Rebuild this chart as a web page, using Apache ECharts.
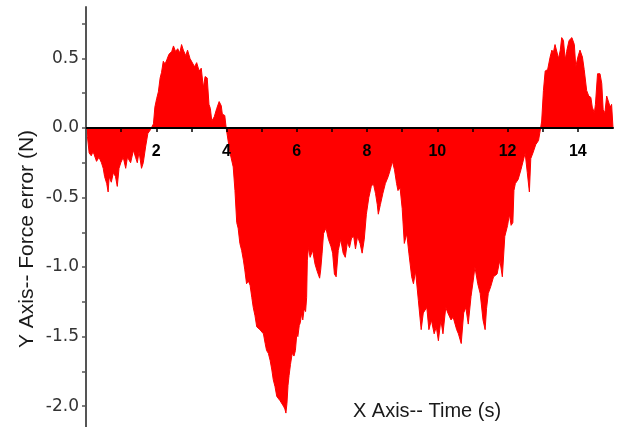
<!DOCTYPE html>
<html lang="en">
<head>
<meta charset="utf-8">
<title>Force error</title>
<script src="https://cdn.jsdelivr.net/npm/echarts@6/dist/echarts.min.js"></script>
<style>
  html, body { margin: 0; padding: 0; background: #fff; }
  #main { width: 626px; height: 427px; }
</style>
</head>
<body>
<div id="main"></div>
<script>
// time (s)
var timeS = [
  0.00, 0.04, 0.09, 0.15, 0.20, 0.23, 0.30, 0.37, 0.44, 0.49,
  0.53, 0.59, 0.63, 0.66, 0.72, 0.78, 0.84, 0.89, 0.94, 0.99,
  1.06, 1.13, 1.18, 1.27, 1.35, 1.41, 1.46, 1.51, 1.58, 1.63,
  1.70, 1.76, 1.84, 1.88, 1.92, 1.96, 2.01, 2.06, 2.11, 2.15,
  2.20, 2.25, 2.30, 2.36, 2.44, 2.49, 2.55, 2.61, 2.67, 2.72,
  2.77, 2.84, 2.89, 2.96, 3.01, 3.09, 3.15, 3.22, 3.28, 3.34,
  3.39, 3.45, 3.50, 3.54, 3.58, 3.65, 3.72, 3.79, 3.85, 3.88,
  3.95, 3.99, 4.05, 4.10, 4.19, 4.24, 4.29, 4.33, 4.38, 4.43,
  4.48, 4.52, 4.57, 4.62, 4.67, 4.72, 4.76, 4.81, 4.86, 4.91,
  4.95, 5.00, 5.05, 5.10, 5.14, 5.19, 5.24, 5.29, 5.33, 5.38,
  5.43, 5.48, 5.52, 5.57, 5.62, 5.66, 5.69, 5.72, 5.75, 5.78,
  5.82, 5.87, 5.92, 5.96, 6.00, 6.03, 6.07, 6.10, 6.14, 6.17,
  6.21, 6.25, 6.28, 6.30, 6.33, 6.38, 6.45, 6.52, 6.58, 6.65,
  6.68, 6.72, 6.76, 6.83, 6.90, 6.97, 7.02, 7.07, 7.12, 7.18,
  7.25, 7.32, 7.38, 7.44, 7.50, 7.56, 7.62, 7.67, 7.73, 7.80,
  7.86, 7.92, 7.98, 8.05, 8.12, 8.18, 8.24, 8.29, 8.32, 8.38,
  8.45, 8.52, 8.60, 8.66, 8.72, 8.78, 8.84, 8.88, 8.94, 9.00,
  9.06, 9.13, 9.19, 9.27, 9.32, 9.38, 9.46, 9.54, 9.60, 9.70,
  9.76, 9.83, 9.91, 9.97, 10.03, 10.10, 10.16, 10.24, 10.30, 10.39,
  10.45, 10.55, 10.60, 10.68, 10.75, 10.81, 10.88, 10.96, 11.02, 11.07,
  11.15, 11.22, 11.30, 11.36, 11.40, 11.45, 11.52, 11.60, 11.70, 11.78,
  11.85, 11.92, 12.00, 12.05, 12.10, 12.15, 12.18, 12.22, 12.30, 12.38,
  12.45, 12.50, 12.56, 12.62, 12.66, 12.72, 12.80, 12.88, 12.94, 12.97,
  13.02, 13.07, 13.14, 13.21, 13.26, 13.30, 13.35, 13.40, 13.45, 13.50,
  13.54, 13.59, 13.64, 13.68, 13.75, 13.83, 13.90, 13.94, 14.00, 14.06,
  14.13, 14.18, 14.25, 14.31, 14.37, 14.41, 14.47, 14.50, 14.56, 14.63,
  14.68, 14.72, 14.77, 14.82, 14.87, 14.92, 14.96, 15.00
];

// force error (N), same order as timeS
var forceErr = [
  0, -0.06, -0.18, -0.20, -0.17, -0.19, -0.24, -0.21, -0.25, -0.29,
  -0.35, -0.40, -0.46, -0.35, -0.39, -0.32, -0.35, -0.42, -0.29, -0.25,
  -0.21, -0.29, -0.21, -0.25, -0.16, -0.21, -0.25, -0.17, -0.29, -0.25,
  -0.13, -0.04, -0.01, 0, 0.03, 0.15, 0.21, 0.26, 0.36, 0.40,
  0.48, 0.46, 0.49, 0.53, 0.55, 0.59, 0.55, 0.57, 0.54, 0.60,
  0.56, 0.52, 0.56, 0.50, 0.49, 0.44, 0.47, 0.41, 0.43, 0.29,
  0.37, 0.36, 0.17, 0.14, 0.05, 0.08, 0.14, 0.19, 0.16, 0.10,
  0.09, 0, -0.10, -0.18, -0.28, -0.45, -0.68, -0.72, -0.83, -0.88,
  -0.95, -1.02, -1.12, -1.10, -1.13, -1.22, -1.29, -1.35, -1.43, -1.42,
  -1.45, -1.44, -1.48, -1.55, -1.60, -1.62, -1.67, -1.74, -1.81, -1.86,
  -1.93, -1.92, -1.96, -1.95, -2.00, -2.02, -2.05, -1.98, -1.85, -1.78,
  -1.70, -1.62, -1.64, -1.60, -1.48, -1.50, -1.42, -1.40, -1.33, -1.38,
  -1.30, -1.32, -1.22, -0.95, -0.86, -0.93, -0.88, -0.98, -1.03, -1.08,
  -1.02, -0.90, -0.76, -0.72, -0.80, -0.85, -0.90, -1.05, -1.07, -0.88,
  -0.80, -0.90, -0.93, -0.82, -0.86, -0.79, -0.78, -0.87, -0.78, -0.83,
  -0.90, -0.80, -0.62, -0.50, -0.42, -0.40, -0.47, -0.55, -0.62, -0.55,
  -0.47, -0.40, -0.35, -0.30, -0.24, -0.30, -0.40, -0.45, -0.43, -0.58,
  -0.83, -0.76, -0.90, -1.07, -1.12, -1.03, -1.24, -1.45, -1.33, -1.29,
  -1.45, -1.38, -1.48, -1.43, -1.53, -1.38, -1.48, -1.29, -1.33, -1.38,
  -1.36, -1.45, -1.48, -1.55, -1.33, -1.29, -1.41, -1.21, -1.10, -1.00,
  -1.12, -1.19, -1.38, -1.45, -1.30, -1.19, -1.14, -1.07, -1.05, -0.95,
  -1.07, -0.78, -0.70, -0.62, -0.70, -0.68, -0.45, -0.40, -0.37, -0.30,
  -0.23, -0.18, -0.32, -0.46, -0.22, -0.18, -0.12, -0.09, 0, 0.05,
  0.27, 0.41, 0.42, 0.51, 0.56, 0.54, 0.60, 0.61, 0.50, 0.56,
  0.65, 0.63, 0.49, 0.55, 0.63, 0.65, 0.60, 0.44, 0.51, 0.56,
  0.51, 0.42, 0.27, 0.23, 0.22, 0.15, 0.11, 0.17, 0.39, 0.39,
  0.32, 0.13, 0.11, 0.23, 0.22, 0.15, 0.17, 0
];

var xLabels = [2, 4, 6, 8, 10, 12, 14];
var xTicks = [1, 2, 3, 4, 5, 6, 7, 8, 9, 10, 11, 12, 13, 14];
var yLabels = [-2, -1.5, -1, -0.5, 0, 0.5];
var yTicks = [-2, -1.75, -1.5, -1.25, -1, -0.75, -0.5, -0.25, 0, 0.25, 0.5, 0.75];

var points = [];
for (var i = 0; i < timeS.length; i++) {
  points.push([timeS[i], forceErr[i]]);
}

var myChart = echarts.init(document.getElementById('main'));

var option = {
  animation: false,
  backgroundColor: '#fff',
  grid: { left: 86, right: 13, top: 7, bottom: 0, containLabel: false, outerBoundsMode: 'none' },
  xAxis: {
    type: 'value',
    position: 'bottom',
    min: 0,
    max: 15,
    // zero line sits 299px above the grid bottom
    offset: -299,
    z: 10,
    axisLine: { onZero: false, lineStyle: { color: '#000', width: 2 } },
    axisTick: { show: true, length: 4, customValues: xTicks, lineStyle: { color: '#000', width: 1.5 } },
    axisLabel: {
      show: true,
      margin: 16,
      color: '#000',
      fontFamily: 'Liberation Sans',
      fontWeight: 'bold',
      fontSize: 16,
      customValues: xLabels
    },
    splitLine: { show: false }
  },
  yAxis: {
    type: 'value',
    min: -2.15,
    max: 0.87,
    z: 10,
    axisLine: { show: true, onZero: false, lineStyle: { color: '#555', width: 2 } },
    axisTick: { show: true, length: 4, customValues: yTicks, lineStyle: { color: '#555', width: 1.5 } },
    axisLabel: {
      margin: 7,
      color: '#333',
      fontFamily: 'DejaVu Sans',
      fontSize: 17,
      customValues: yLabels,
      formatter: function (v) { return v.toFixed(1); }
    },
    splitLine: { show: false }
  },
  graphic: [
    {
      type: 'text',
      x: 427, y: 411,
      style: {
        text: 'X Axis-- Time (s)',
        font: '20px "Liberation Sans"',
        fill: '#1a1a1a',
        align: 'center',
        verticalAlign: 'middle'
      }
    },
    {
      type: 'text',
      x: 27, y: 239,
      rotation: Math.PI / 2,
      style: {
        text: 'Y Axis-- Force error (N)',
        font: '21px "Liberation Sans"',
        fill: '#1a1a1a',
        align: 'center',
        verticalAlign: 'middle'
      }
    }
  ],
  series: [{
    type: 'line',
    data: points,
    symbol: 'none',
    sampling: 'none',
    lineStyle: { color: '#ff0000', width: 1 },
    areaStyle: { color: '#ff0000', opacity: 1, origin: 0 }
  }]
};

myChart.setOption(option);
</script>
</body>
</html>
